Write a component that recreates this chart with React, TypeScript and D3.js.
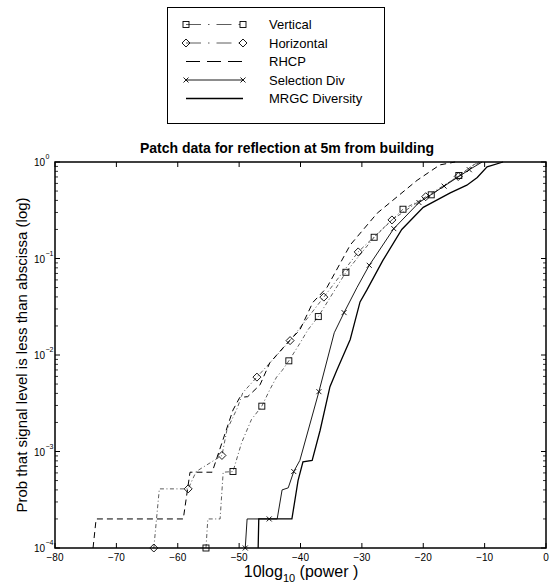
import * as React from 'react';
import * as d3 from 'd3';

type Pt = [number, number];

// dB values vs cumulative probability
const verticalPts: Pt[] = [
  [-55.4, 1e-4], [-55.1, 2e-4], [-53.1, 2e-4], [-52.6, 6.1e-4], [-51.0, 6.2e-4],
  [-49.6, 1.23e-3], [-48.0, 2.14e-3], [-46.3, 2.95e-3], [-45.0, 4.37e-3], [-43.9, 5.9e-3],
  [-43.0, 6.9e-3], [-41.9, 8.7e-3], [-40.1, 1.32e-2], [-38.8, 1.82e-2], [-37.1, 2.5e-2],
  [-34.8, 4.3e-2], [-32.6, 7.2e-2], [-28.0, 0.166], [-23.3, 0.324], [-18.7, 0.457],
  [-14.2, 0.724], [-11.8, 0.93], [-10.5, 1],
];
const verticalMarks: Pt[] = [
  [-55.4, 1e-4], [-51.0, 6.2e-4], [-46.3, 2.95e-3], [-41.9, 8.7e-3], [-37.1, 2.5e-2],
  [-32.6, 7.2e-2], [-28.0, 0.166], [-23.3, 0.324], [-18.7, 0.457], [-14.2, 0.724],
];

const horizontalPts: Pt[] = [
  [-63.9, 1e-4], [-63.0, 4.1e-4], [-58.3, 4.1e-4], [-57.0, 6.2e-4], [-52.8, 9.1e-4],
  [-52.0, 1.66e-3], [-50.3, 2.82e-3], [-49.4, 4.07e-3], [-47.1, 5.9e-3], [-41.7, 1.41e-2],
  [-36.2, 3.98e-2], [-30.6, 0.117], [-25.1, 0.251], [-19.6, 0.437], [-14.3, 0.708],
  [-12.2, 0.9], [-11.0, 1],
];
const horizontalMarks: Pt[] = [
  [-63.9, 1e-4], [-58.3, 4.1e-4], [-52.8, 9.1e-4], [-47.1, 5.9e-3], [-41.7, 1.41e-2],
  [-36.2, 3.98e-2], [-30.6, 0.117], [-25.1, 0.251], [-19.6, 0.437], [-14.3, 0.708],
];

const rhcpPts: Pt[] = [
  [-73.8, 1e-4], [-73.3, 2e-4], [-59.1, 2e-4], [-58.0, 6.1e-4], [-54.4, 6.1e-4],
  [-52.8, 1.23e-3], [-51.0, 2.69e-3], [-49.9, 3.63e-3], [-48.6, 3.7e-3], [-46.6, 4.9e-3],
  [-45.0, 8.3e-3], [-42.2, 1.32e-2], [-40.1, 1.82e-2], [-38.0, 3.5e-2], [-35.7, 5.0e-2],
  [-31.9, 0.138], [-27.5, 0.295], [-21.0, 0.646], [-17.3, 0.933], [-14.8, 1],
];

const selectionPts: Pt[] = [
  [-49.0, 1e-4], [-48.7, 2e-4], [-43.8, 2e-4], [-43.0, 4.0e-4], [-42.0, 4.2e-4],
  [-41.1, 6.2e-4], [-40.1, 8.1e-4], [-37.0, 4.17e-3], [-34.5, 1.7e-2], [-32.9, 2.75e-2],
  [-30.8, 5.0e-2], [-28.8, 8.5e-2], [-24.8, 0.204], [-20.7, 0.38], [-16.6, 0.562],
  [-12.5, 0.832], [-10.4, 1],
];
const selectionMarks: Pt[] = [
  [-49.0, 1e-4], [-45.1, 2e-4], [-41.1, 6.2e-4], [-37.0, 4.17e-3], [-32.9, 2.75e-2],
  [-28.8, 8.5e-2], [-24.8, 0.204], [-20.7, 0.38], [-16.6, 0.562], [-12.5, 0.832],
];

const mrgcPts: Pt[] = [
  [-46.9, 1e-4], [-46.8, 2e-4], [-41.4, 2e-4], [-40.4, 5.0e-4], [-39.6, 7.8e-4],
  [-38.1, 8.1e-4], [-36.8, 1.66e-3], [-35.2, 4.7e-3], [-34.1, 6.9e-3], [-31.9, 1.45e-2],
  [-30.3, 3.55e-2], [-29.2, 4.7e-2], [-26.6, 9.5e-2], [-23.5, 0.2], [-20.0, 0.339],
  [-15.6, 0.479], [-12.9, 0.575], [-11.2, 0.692], [-9.6, 0.891], [-7.0, 1],
];

const legendLabels = ['Vertical', 'Horizontal', 'RHCP', 'Selection Div', 'MRGC Diversity'];
const xTicks = [-80, -70, -60, -50, -40, -30, -20, -10, 0];
const yDecades = [-4, -3, -2, -1, 0];

const FONT = '"Liberation Sans", Arial, Helvetica, sans-serif';
const W = 551;
const H = 585;
const L = 55, R = 546, T = 162, B = 548;

type Kind = 'square' | 'diamond' | 'cross' | 'none';

function Marker({ kind, cx, cy }: { kind: Kind; cx: number; cy: number }) {
  if (kind === 'square')
    return <rect x={cx - 3} y={cy - 3} width={6} height={6} fill="none" stroke="#000" strokeWidth={0.9} />;
  if (kind === 'diamond')
    return (
      <path
        d={`M${cx},${cy - 4}L${cx + 4},${cy}L${cx},${cy + 4}L${cx - 4},${cy}Z`}
        fill="none"
        stroke="#000"
        strokeWidth={0.9}
      />
    );
  if (kind === 'cross')
    return (
      <path
        d={`M${cx - 2.5},${cy - 2.5}L${cx + 2.5},${cy + 2.5}M${cx - 2.5},${cy + 2.5}L${cx + 2.5},${cy - 2.5}`}
        stroke="#000"
        strokeWidth={0.9}
      />
    );
  return null;
}

export default function App() {
  const x = d3.scaleLinear().domain([-80, 0]).range([L, R]);
  const y = d3.scaleLog().domain([1e-4, 1]).range([B, T]);
  const line = d3
    .line<Pt>()
    .x((d) => x(d[0]))
    .y((d) => y(d[1]));

  const series = [
    { pts: verticalPts, marks: verticalMarks, kind: 'square' as Kind, dash: '4,2.5,1,2.5', legDash: '15,7,1.5,7', sw: 0.8, color: '#333' },
    { pts: horizontalPts, marks: horizontalMarks, kind: 'diamond' as Kind, dash: '4,2.5,1,2.5', legDash: '15,7,1.5,7', sw: 0.8, color: '#333' },
    { pts: rhcpPts, marks: [] as Pt[], kind: 'none' as Kind, dash: '6,4', legDash: '14,7', sw: 1, color: '#000' },
    { pts: selectionPts, marks: selectionMarks, kind: 'cross' as Kind, dash: undefined, legDash: undefined, sw: 0.9, color: '#000' },
    { pts: mrgcPts, marks: [] as Pt[], kind: 'none' as Kind, dash: undefined, legDash: undefined, sw: 1.3, color: '#000' },
  ];

  // minor log ticks
  const minor: number[] = [];
  for (let e = -4; e < 0; e++) for (let k = 2; k <= 9; k++) minor.push(k * Math.pow(10, e));

  const legRows = [24.5, 43, 61.5, 80, 98.5];

  return (
    <svg
      width={W}
      height={H}
      style={{ position: 'absolute', left: 0, top: 0, background: '#fff' }}
      fontFamily={FONT}
    >
      {/* legend */}
      <rect x={167.5} y={7.5} width={217} height={116} fill="#fff" stroke="#000" strokeWidth={1} />
      {series.map((s, i) => (
        <g key={'leg' + i}>
          <line
            x1={186}
            x2={243}
            y1={legRows[i]}
            y2={legRows[i]}
            stroke={s.color}
            strokeWidth={s.sw}
            strokeDasharray={s.legDash}
          />
          <Marker kind={s.kind} cx={186} cy={legRows[i]} />
          <Marker kind={s.kind} cx={243} cy={legRows[i]} />
          <text x={269} y={legRows[i] + 4.5} fontSize={13}>
            {legendLabels[i]}
          </text>
        </g>
      ))}

      {/* title */}
      <text x={287} y={153} fontSize={14} fontWeight="bold" textAnchor="middle">
        Patch data for reflection at 5m from building
      </text>

      {/* curves */}
      <g>
        {series.map((s, i) => (
          <g key={'s' + i}>
            <path d={line(s.pts) || ''} fill="none" stroke={s.color} strokeWidth={s.sw} strokeDasharray={s.dash} />
            {s.marks.map((m, j) => (
              <Marker key={j} kind={s.kind} cx={x(m[0])} cy={y(m[1])} />
            ))}
          </g>
        ))}
      </g>

      {/* ticks */}
      {xTicks.map((t) => (
        <g key={'xt' + t}>
          <line x1={x(t)} x2={x(t)} y1={B} y2={B - 5} stroke="#000" />
          <line x1={x(t)} x2={x(t)} y1={T} y2={T + 5} stroke="#000" />
          <text x={x(t)} y={561} fontSize={10} textAnchor="middle">
            {t < 0 ? '\u2212' + Math.abs(t) : t}
          </text>
        </g>
      ))}
      {minor.map((v, i) => (
        <g key={'mn' + i}>
          <line x1={L} x2={L + 3} y1={y(v)} y2={y(v)} stroke="#000" strokeWidth={0.8} />
          <line x1={R} x2={R - 3} y1={y(v)} y2={y(v)} stroke="#000" strokeWidth={0.8} />
        </g>
      ))}
      {yDecades.map((e) => {
        const yy = y(Math.pow(10, e));
        return (
          <g key={'yd' + e}>
            <line x1={L} x2={L + 5} y1={yy} y2={yy} stroke="#000" />
            <line x1={R} x2={R - 5} y1={yy} y2={yy} stroke="#000" />
            <text x={45} y={yy + 4} fontSize={10} textAnchor="end">
              10
            </text>
            <text x={45.5} y={yy - 3} fontSize={7}>
              {e < 0 ? '\u2212' + Math.abs(e) : e}
            </text>
          </g>
        );
      })}

      {/* axes box */}
      <rect x={L} y={T} width={R - L} height={B - T} fill="none" stroke="#000" strokeWidth={1.5} />

      {/* axis labels */}
      <text x={301} y={577} fontSize={16} textAnchor="middle">
        10log
        <tspan fontSize={11} dy={5}>
          10
        </tspan>
        <tspan dy={-5}> (power )</tspan>
      </text>
      <text
        transform={`translate(27,${(T + B) / 2}) rotate(-90)`}
        fontSize={15}
        textAnchor="middle"
      >
        Prob that signal level is less than abscissa (log)
      </text>
    </svg>
  );
}
